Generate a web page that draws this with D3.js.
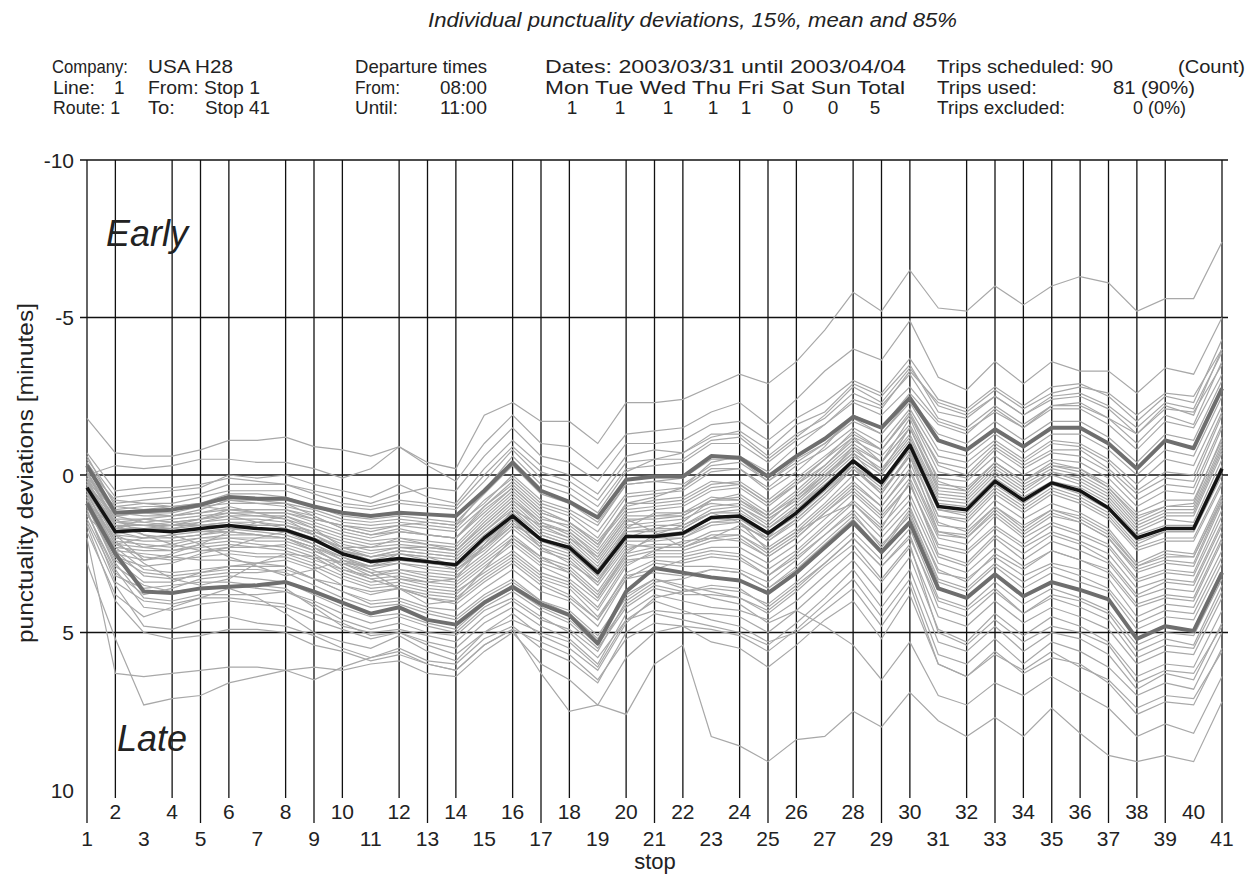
<!DOCTYPE html>
<html>
<head>
<meta charset="utf-8">
<style>
    body { margin: 0; background: #fff; }
    text { font-family: "Liberation Sans", Arial, sans-serif; fill: #222; }
</style>
</head>
<body>
<svg id="chart" width="1255" height="879"></svg>
<script src="https://cdn.jsdelivr.net/npm/d3@7"></script>
<script>
    // stops along the route
    const stops = [1, 2, 3, 4, 5, 6, 7, 8, 9, 10, 11, 12, 13, 14, 15, 16, 17, 18, 19, 20,
        21, 22, 23, 24, 25, 26, 27, 28, 29, 30, 31, 32, 33, 34, 35, 36, 37, 38, 39, 40, 41];
    // stops whose grid line is not visible in the scan
    const stopsNoGrid = [3, 7, 11, 15, 19, 23, 27, 31, 40];
    const yTicks = [-10, -5, 0, 5, 10];

    // thick lines: 15% quantile, mean, 85% quantile (minutes, + = late)
    const p15 = [-0.3, 1.2, 1.15, 1.1, 0.95, 0.7, 0.75, 0.75, 1.0, 1.2, 1.3, 1.2, 1.25, 1.3, 0.5, -0.4, 0.5, 0.85, 1.35, 0.15,
        0.05, 0.05, -0.6, -0.55, 0.05, -0.6, -1.15, -1.85, -1.5, -2.45, -1.1, -0.8, -1.45, -0.9, -1.5, -1.5, -1.0, -0.2, -1.1, -0.85, -2.75];
    const meanDev = [0.4, 1.8, 1.75, 1.8, 1.7, 1.6, 1.7, 1.75, 2.05, 2.5, 2.75, 2.65, 2.75, 2.85, 2.0, 1.3, 2.05, 2.3, 3.1, 1.95,
        1.95, 1.85, 1.35, 1.3, 1.85, 1.2, 0.4, -0.45, 0.25, -0.95, 1.0, 1.1, 0.2, 0.8, 0.25, 0.5, 1.05, 2.0, 1.7, 1.7, -0.2];
    const p85 = [0.9, 2.5, 3.7, 3.75, 3.6, 3.55, 3.5, 3.4, 3.7, 4.05, 4.4, 4.2, 4.6, 4.75, 4.05, 3.55, 4.1, 4.45, 5.35, 3.7,
        2.95, 3.1, 3.25, 3.35, 3.75, 3.1, 2.3, 1.5, 2.45, 1.5, 3.6, 3.9, 3.15, 3.85, 3.4, 3.65, 3.95, 5.2, 4.8, 4.95, 3.1];

    // individual trips (a readable subset of the 81 grey lines)
    const trips = [
        [-1.8, -0.7, -0.6, -0.6, -0.8, -1.1, -1.1, -1.2, -0.9, -0.8, -0.6, -0.9, -0.4, -0.2, -1.9, -2.3, -1.7, -1.7, -1.0, -2.3,
         -2.3, -2.4, -2.8, -3.2, -2.9, -3.6, -4.6, -5.8, -5.2, -6.5, -5.3, -5.2, -6.0, -5.4, -6.0, -6.3, -6.1, -5.2, -5.6, -5.6, -7.4],
        [0.0, -0.3, -0.2, -0.3, -0.5, -0.5, -0.4, -0.4, -0.2, 0.1, -0.2, -0.9, -0.3, 0.2, -1.0, -1.9, -1.0, -0.9, -0.2, -1.3,
         -1.4, -1.5, -2.0, -2.3, -1.6, -2.4, -3.3, -4.0, -3.65, -4.9, -3.1, -2.7, -3.6, -2.9, -3.6, -3.3, -3.3, -2.6, -3.4, -3.2, -5.0],
        [-0.5, 0.7, 0.6, 0.5, 0.4, 0.0, 0.1, 0.0, 0.3, 0.5, 0.7, 0.3, 0.7, 0.9, -0.2, -1.1, -0.3, 0.0, 0.6, -0.6,
         -0.8, -0.7, -1.3, -1.3, -0.6, -1.3, -1.8, -2.6, -2.2, -3.2, -1.8, -1.5, -2.2, -1.6, -2.2, -2.3, -1.8, -1.0, -1.9, -1.6, -3.6],
        [0.1, 1.0, 0.9, 0.9, 0.7, 0.5, 0.5, 0.5, 0.8, 1.0, 1.1, 0.9, 1.0, 1.1, 0.2, -0.8, 0.1, 0.4, 1.0, -0.2,
         -0.3, -0.4, -1.0, -1.0, -0.4, -1.1, -1.6, -2.3, -1.9, -2.8, -1.7, -1.4, -2.0, -1.5, -2.1, -2.1, -1.6, -0.8, -1.7, -1.5, -3.2],
        [-0.4, 0.9, 0.8, 0.7, 0.6, 0.3, 0.3, 0.3, 0.5, 0.7, 0.9, 0.6, 0.4, 0.5, -0.6, -1.5, -0.6, -0.4, 0.2, -1.0,
         -1.0, -1.1, -1.6, -1.7, -1.1, -1.8, -2.3, -3.0, -2.6, -3.7, -2.4, -2.1, -2.8, -2.2, -2.8, -2.9, -2.5, -1.7, -2.5, -2.3, -4.3],
        [-0.1, 1.3, 1.2, 1.2, 1.0, 0.9, 0.9, 1.0, 1.2, 1.5, 1.6, 1.5, 1.6, 1.7, 0.8, 0.1, 0.9, 1.2, 1.8, 0.6,
         0.5, 0.4, -0.2, -0.2, 0.4, -0.3, -0.8, -1.5, -1.0, -2.1, -0.6, -0.4, -1.1, -0.5, -1.1, -1.0, -0.5, 0.3, -0.5, -0.3, -2.2],
        [0.2, 1.1, 1.0, 1.0, 1.0, 1.1, 1.2, 1.2, 1.4, 1.6, 1.7, 1.6, 1.5, 1.6, 0.9, 0.0, 0.8, 1.1, 1.6, 0.3,
         0.2, 0.3, -0.3, -0.4, 0.2, -0.5, -1.0, -1.7, -1.3, -2.3, -0.8, -0.6, -1.3, -0.7, -1.3, -1.3, -0.8, 0.0, -0.8, -0.6, -2.5],
        [-0.2, 1.2, 1.3, 1.3, 1.1, 0.8, 0.9, 0.9, 1.3, 1.7, 1.9, 1.7, 1.9, 2.0, 1.0, 0.3, 1.1, 1.5, 2.1, 1.0,
         0.8, 0.7, 0.2, 0.3, 0.9, 0.3, -0.5, -1.4, -0.8, -2.0, -0.3, 0.0, -0.9, -0.3, -0.8, -0.8, -0.2, 0.6, 0.1, 0.2, -1.9],
        [0.2, 1.5, 1.5, 1.4, 1.3, 1.2, 1.3, 1.3, 1.6, 1.9, 2.1, 2.0, 2.1, 2.2, 1.3, 0.5, 1.3, 1.7, 2.4, 1.2,
         1.1, 1.0, 0.5, 0.4, 1.0, 0.3, -0.3, -1.1, -0.6, -1.6, 0.1, 0.2, -0.6, 0.0, -0.5, -0.4, 0.1, 1.0, 0.5, 0.6, -1.5],
        [0.9, 1.7, 1.4, 1.3, 1.2, 1.0, 1.2, 1.4, 1.9, 2.4, 2.7, 2.5, 2.6, 2.9, 2.3, 1.4, 2.3, 2.8, 3.4, 2.0,
         1.7, 1.5, 0.8, 0.6, 1.2, 0.5, -0.3, -1.2, -0.4, -1.8, 0.2, 0.5, -0.4, 0.2, -0.4, -0.2, 0.4, 1.3, 1.0, 0.9, -1.2],
        [0.3, 1.6, 1.6, 1.6, 1.5, 1.4, 1.4, 1.5, 1.8, 2.2, 2.4, 2.3, 2.4, 2.5, 1.7, 0.9, 1.7, 2.0, 2.8, 1.6,
         1.5, 1.4, 1.0, 0.9, 1.4, 0.8, 0.0, -0.8, -0.2, -1.3, 0.6, 0.7, -0.2, 0.4, -0.1, 0.1, 0.6, 1.6, 1.2, 1.2, -0.8],
        [-0.3, 1.3, 1.5, 1.6, 1.6, 1.5, 1.5, 1.6, 1.9, 2.3, 2.6, 2.4, 2.5, 2.6, 1.8, 1.1, 1.9, 2.2, 3.0, 1.8,
         1.7, 1.7, 1.2, 1.1, 1.7, 1.0, 0.2, -0.6, 0.0, -1.1, 0.8, 0.9, 0.0, 0.6, 0.0, 0.3, 0.8, 1.8, 1.4, 1.5, -0.5],
        [0.5, 1.8, 2.0, 1.9, 1.8, 1.7, 1.8, 1.9, 2.2, 2.7, 3.0, 2.8, 2.9, 3.0, 2.3, 1.5, 2.2, 2.5, 3.3, 2.1,
         2.1, 2.0, 1.6, 1.5, 2.1, 1.5, 0.7, -0.2, 0.6, -0.7, 1.3, 1.4, 0.5, 1.1, 0.5, 0.8, 1.3, 2.3, 2.0, 2.0, 0.2],
        [0.0, 1.4, 1.9, 2.2, 2.4, 2.3, 2.0, 1.8, 2.2, 2.6, 3.0, 3.3, 3.4, 3.3, 2.2, 1.1, 1.6, 2.0, 2.6, 1.4,
         1.8, 2.3, 2.0, 1.6, 2.0, 1.0, 0.3, -0.3, 0.6, -0.6, 1.8, 2.0, 1.2, 1.9, 1.3, 1.5, 2.0, 3.1, 2.8, 2.9, 0.9],
        [0.5, 2.0, 2.1, 2.1, 2.0, 2.0, 2.1, 2.1, 2.4, 2.8, 3.1, 3.0, 3.1, 3.2, 2.5, 1.7, 2.4, 2.7, 3.5, 2.3,
         2.2, 2.2, 1.8, 1.7, 2.3, 1.7, 0.9, 0.0, 0.8, -0.4, 1.6, 1.7, 0.8, 1.4, 0.9, 1.2, 1.7, 2.8, 2.4, 2.5, 0.6],
        [0.7, 2.6, 2.9, 2.8, 2.5, 2.3, 2.3, 2.2, 2.5, 3.0, 3.2, 3.0, 3.2, 3.3, 2.6, 1.9, 2.6, 2.9, 3.7, 2.4,
         2.0, 1.9, 1.5, 1.5, 2.1, 1.4, 0.6, -0.2, 0.5, -0.6, 1.3, 1.5, 0.6, 1.2, 0.6, 0.9, 1.4, 2.4, 2.1, 2.1, 0.3],
        [0.3, 2.1, 2.8, 3.3, 3.5, 3.3, 2.8, 2.5, 2.6, 2.8, 2.9, 2.5, 2.7, 3.0, 2.4, 1.6, 2.0, 2.4, 3.2, 1.7,
         1.2, 1.2, 0.9, 1.0, 1.5, 0.7, 0.0, -0.7, 0.3, -0.8, 1.5, 1.8, 1.0, 1.6, 1.1, 1.3, 1.8, 2.9, 2.5, 2.6, 0.8],
        [0.4, 1.9, 2.3, 2.4, 2.3, 2.2, 2.3, 2.4, 2.7, 3.0, 3.3, 3.2, 3.4, 3.5, 2.8, 2.1, 2.8, 3.1, 3.9, 2.6,
         2.4, 2.4, 2.1, 2.0, 2.6, 2.0, 1.2, 0.4, 1.2, 0.1, 2.0, 2.2, 1.3, 2.0, 1.5, 1.8, 2.2, 3.3, 3.0, 3.1, 1.1],
        [0.6, 2.2, 2.6, 2.7, 2.6, 2.5, 2.6, 2.6, 2.9, 3.3, 3.6, 3.5, 3.7, 3.8, 3.0, 2.4, 3.1, 3.4, 4.2, 2.8,
         2.5, 2.5, 2.3, 2.3, 2.8, 2.2, 1.4, 0.6, 1.4, 0.3, 2.3, 2.5, 1.7, 2.3, 1.8, 2.1, 2.5, 3.6, 3.3, 3.4, 1.5],
        [0.8, 2.3, 2.4, 2.4, 2.2, 2.1, 2.2, 2.3, 2.6, 3.1, 3.4, 3.3, 3.5, 3.6, 2.9, 2.2, 2.9, 3.3, 4.0, 2.7,
         2.6, 2.6, 2.4, 2.5, 3.0, 2.4, 1.6, 0.8, 1.6, 0.6, 2.6, 2.9, 2.0, 2.7, 2.1, 2.4, 2.8, 3.9, 3.6, 3.7, 1.8],
        [0.6, 1.5, 1.6, 1.7, 1.8, 1.8, 1.9, 2.0, 2.3, 2.9, 3.3, 3.6, 3.8, 3.9, 3.2, 2.6, 3.3, 3.6, 4.5, 3.2,
         3.0, 2.7, 2.5, 2.6, 3.2, 2.6, 1.9, 1.2, 2.3, 1.1, 3.0, 3.4, 2.5, 3.0, 2.4, 2.7, 3.0, 4.1, 3.8, 3.9, 2.0],
        [0.8, 2.4, 3.2, 3.3, 3.2, 3.1, 3.1, 3.0, 3.3, 3.7, 4.0, 3.9, 4.2, 4.3, 3.6, 3.0, 3.7, 4.0, 4.8, 3.3,
         2.8, 2.9, 2.9, 3.0, 3.4, 2.7, 1.9, 1.1, 2.0, 1.0, 3.1, 3.3, 2.6, 3.2, 2.8, 3.0, 3.3, 4.5, 4.1, 4.2, 2.4],
        [0.7, 2.3, 3.0, 3.1, 3.0, 2.9, 2.9, 2.9, 3.3, 3.7, 4.1, 4.0, 4.3, 4.5, 3.8, 3.3, 4.0, 4.4, 5.2, 3.9,
         3.3, 3.6, 3.9, 4.1, 4.7, 4.3, 4.8, 5.4, 6.5, 5.3, 7.0, 7.3, 6.6, 7.0, 6.4, 6.9, 7.4, 8.3, 7.9, 8.2, 6.4],
        [1.4, 3.2, 3.6, 3.5, 3.4, 3.4, 3.5, 3.6, 4.2, 4.8, 5.0, 4.9, 5.1, 5.3, 4.5, 4.0, 4.6, 4.9, 5.6, 4.0,
         3.4, 3.3, 3.0, 3.1, 3.6, 2.9, 2.1, 1.3, 2.2, 1.3, 3.4, 3.7, 2.9, 3.6, 3.1, 3.4, 3.7, 4.9, 4.5, 4.6, 2.8],
        [1.0, 2.8, 3.9, 4.0, 3.8, 3.8, 3.8, 3.7, 4.1, 4.6, 4.9, 4.7, 5.0, 5.1, 4.3, 3.9, 4.5, 5.0, 5.8, 4.6,
         4.0, 4.3, 4.6, 4.8, 5.3, 5.0, 4.3, 3.6, 4.8, 3.5, 6.0, 6.4, 5.7, 6.2, 5.6, 6.1, 6.5, 7.4, 7.0, 7.1, 5.6],
        [1.2, 3.0, 4.2, 4.3, 4.1, 4.0, 4.1, 4.2, 4.6, 4.9, 5.2, 5.0, 5.3, 5.5, 4.7, 4.2, 4.8, 5.2, 6.0, 4.4,
         3.8, 4.0, 4.2, 4.3, 4.6, 4.0, 3.2, 2.4, 3.4, 2.3, 4.5, 4.8, 4.0, 4.7, 4.2, 4.5, 4.9, 6.0, 5.6, 5.7, 3.9],
        [1.8, 3.8, 4.5, 4.2, 3.9, 3.6, 3.9, 4.4, 5.0, 5.3, 5.5, 5.1, 5.6, 5.9, 5.0, 4.4, 5.1, 5.5, 6.2, 4.7,
         3.9, 3.7, 3.5, 3.6, 4.2, 3.5, 2.8, 2.0, 2.9, 2.0, 4.0, 4.3, 3.6, 4.4, 3.8, 4.0, 4.4, 5.6, 5.2, 5.4, 3.5],
        [1.5, 3.5, 4.8, 4.9, 4.6, 4.5, 4.7, 4.8, 5.1, 5.5, 5.8, 5.5, 5.9, 6.0, 5.2, 4.8, 5.5, 5.9, 6.6, 5.0,
         4.4, 4.6, 4.8, 5.0, 5.4, 4.7, 3.9, 3.0, 4.2, 3.0, 5.3, 5.6, 4.8, 5.6, 5.0, 5.2, 5.7, 6.8, 6.3, 6.5, 4.7],
        [2.8, 5.2, 7.3, 7.1, 7.0, 6.6, 6.4, 6.2, 6.1, 6.2, 6.0, 5.9, 6.3, 6.4, 5.6, 5.0, 6.0, 6.5, 7.3, 5.8,
         5.0, 4.8, 5.3, 5.5, 6.1, 5.4, 4.6, 4.0, 5.2, 3.8, 6.0, 6.4, 5.6, 6.3, 5.8, 6.0, 6.6, 7.6, 7.2, 7.3, 5.5],
        [2.0, 6.3, 6.4, 6.3, 6.2, 6.1, 6.1, 6.2, 6.5, 6.1, 5.8, 5.6, 6.0, 6.2, 5.4, 4.9, 6.3, 7.5, 7.3, 7.6,
         6.0, 5.4, 8.3, 8.6, 9.1, 8.4, 8.3, 7.5, 8.0, 6.9, 7.8, 8.3, 7.7, 8.3, 7.4, 8.2, 8.9, 9.1, 8.9, 9.1, 7.2],
        [-0.6, 1.0, 1.1, 1.0, 0.9, 0.6, 0.6, 0.7, 1.0, 1.3, 1.4, 1.3, 1.4, 1.5, 0.6, -0.3, 0.6, 0.9, 1.5, 0.3,
         0.2, 0.1, -0.5, -0.5, 0.2, -0.4, -1.0, -1.8, -1.3, -2.4, -1.3, -1.0, -1.7, -1.1, -1.7, -1.7, -1.2, -0.4, -1.3, -1.1, -3.0],
        [0.1, 1.4, 1.4, 1.5, 1.4, 1.2, 1.2, 1.2, 1.5, 1.8, 2.0, 1.8, 1.9, 2.0, 1.1, 0.4, 1.2, 1.5, 2.2, 0.9,
         0.9, 0.8, 0.3, 0.2, 0.8, 0.1, -0.6, -1.3, -0.8, -1.9, -0.4, -0.2, -1.0, -0.4, -1.0, -0.9, -0.4, 0.5, -0.1, 0.0, -2.0],
        [0.4, 1.7, 1.8, 1.7, 1.6, 1.5, 1.6, 1.6, 1.9, 2.4, 2.6, 2.5, 2.6, 2.7, 1.9, 1.2, 1.9, 2.2, 3.0, 1.8,
         1.8, 1.7, 1.2, 1.2, 1.7, 1.1, 0.3, -0.5, 0.2, -1.0, 0.9, 1.0, 0.1, 0.7, 0.2, 0.4, 0.9, 1.9, 1.6, 1.6, -0.3],
        [0.6, 2.1, 2.2, 2.3, 2.1, 2.0, 2.0, 2.0, 2.3, 2.7, 2.9, 2.8, 3.0, 3.1, 2.3, 1.6, 2.3, 2.6, 3.4, 2.2,
         2.3, 2.3, 2.0, 1.9, 2.5, 1.9, 1.1, 0.3, 1.0, -0.1, 1.9, 2.0, 1.1, 1.8, 1.2, 1.5, 2.0, 3.0, 2.7, 2.8, 0.8],
        [1.0, 2.7, 3.4, 3.4, 3.1, 2.9, 2.8, 2.7, 3.0, 3.5, 3.8, 3.6, 3.9, 4.0, 3.3, 2.7, 3.4, 3.8, 4.6, 3.1,
         2.7, 2.8, 2.6, 2.7, 3.2, 2.5, 1.7, 0.9, 1.8, 0.8, 2.8, 3.1, 2.3, 2.9, 2.4, 2.7, 3.1, 4.2, 3.9, 4.0, 2.1],
        [1.1, 3.4, 4.0, 4.1, 3.9, 3.9, 4.0, 4.1, 4.4, 4.7, 5.1, 5.0, 5.4, 5.7, 5.0, 4.6, 5.0, 5.3, 6.1, 4.6,
         4.3, 4.4, 4.4, 4.5, 5.0, 4.3, 3.5, 2.7, 3.8, 2.6, 4.9, 5.3, 4.4, 5.1, 4.5, 4.8, 5.3, 6.4, 6.0, 6.1, 4.3],
        [0.3, 1.6, 1.7, 1.7, 1.5, 1.3, 1.3, 1.4, 1.7, 2.0, 2.2, 2.1, 2.2, 2.3, 1.4, 0.6, 1.4, 1.6, 2.3, 0.9,
         0.7, 0.4, -0.4, -0.6, -0.1, -0.9, -1.6, -2.4, -2.1, -3.3, -2.3, -2.0, -2.7, -2.1, -2.6, -2.8, -2.6, -1.9, -2.6, -2.5, -4.0],
        [-0.1, 1.5, 1.6, 1.5, 1.4, 1.1, 1.1, 1.1, 1.4, 1.6, 1.8, 1.6, 1.7, 1.8, 1.0, 0.2, 1.0, 1.3, 2.0, 0.7,
         0.6, 0.5, -0.1, -0.2, 0.5, -0.1, -0.9, -1.9, -1.5, -2.6, -1.6, -1.3, -2.1, -1.5, -2.2, -2.2, -1.8, -1.3, -2.1, -2.0, -3.5],
        [0.9, 2.6, 3.1, 3.2, 3.1, 3.0, 3.0, 3.1, 3.5, 3.9, 4.2, 4.1, 4.4, 4.6, 3.9, 3.4, 4.0, 4.3, 5.1, 3.8,
         3.3, 3.5, 3.7, 3.9, 4.4, 3.7, 2.9, 2.2, 3.3, 2.2, 5.0, 5.4, 4.6, 5.3, 4.8, 5.0, 5.4, 6.6, 6.2, 6.3, 4.8],
        [0.5, 1.9, 2.0, 2.0, 1.9, 1.8, 1.9, 2.0, 2.3, 2.6, 2.9, 2.7, 2.8, 2.9, 2.1, 1.4, 2.1, 2.4, 3.2, 2.0,
         1.9, 1.8, 1.4, 1.4, 1.9, 1.3, 0.5, -0.3, 0.3, -0.8, 1.1, 1.3, 0.4, 1.0, 0.4, 0.7, 1.2, 2.2, 1.8, 1.8, -0.1],
        [0.2, 1.7, 1.7, 1.8, 1.7, 1.6, 1.7, 1.8, 2.1, 2.5, 2.8, 2.7, 2.8, 2.9, 2.2, 1.4, 2.0, 2.3, 3.0, 1.9,
         2.0, 2.0, 1.5, 1.4, 2.0, 1.4, 0.6, -0.3, 0.4, -0.9, 1.1, 1.2, 0.3, 0.9, 0.3, 0.6, 1.1, 2.1, 1.8, 1.8, 0.0],
        [0.8, 2.5, 2.7, 2.6, 2.4, 2.4, 2.5, 2.5, 2.8, 3.2, 3.5, 3.4, 3.6, 3.7, 3.1, 2.5, 3.2, 3.5, 4.3, 2.9,
         2.4, 2.1, 2.0, 2.1, 2.6, 2.0, 1.2, 0.5, 1.3, 0.3, 2.2, 2.4, 1.6, 2.2, 1.6, 1.9, 2.3, 3.4, 3.1, 3.2, 1.3],
        [-0.2, 0.8, 0.9, 1.0, 0.9, 0.8, 0.8, 0.9, 1.1, 1.4, 1.5, 1.4, 1.5, 1.6, 0.5, -0.6, 0.3, 0.6, 1.2, -0.1,
         -0.5, -0.7, -1.2, -1.4, -0.8, -1.6, -2.0, -2.9, -2.5, -3.5, -2.0, -1.8, -2.5, -1.9, -2.4, -2.5, -2.1, -1.3, -2.2, -1.9, -4.0],
        [1.6, 4.0, 5.0, 5.2, 5.1, 4.9, 4.9, 5.0, 5.4, 5.6, 5.9, 5.7, 6.0, 6.2, 5.4, 4.9, 5.3, 5.7, 6.5, 5.2,
         4.7, 4.8, 4.9, 5.1, 5.6, 4.9, 4.1, 3.3, 4.5, 3.3, 5.7, 6.0, 5.2, 6.0, 5.3, 5.6, 6.1, 7.0, 6.6, 6.8, 5.0],
        [0.3, 1.3, 1.2, 1.3, 1.2, 1.1, 1.1, 1.1, 1.3, 1.7, 1.9, 1.8, 1.9, 2.0, 1.2, 0.4, 1.2, 1.5, 2.2, 1.1,
         1.0, 0.9, 0.4, 0.3, 0.9, 0.2, -0.5, -1.2, -0.8, -1.9, -0.1, 0.1, -0.8, -0.2, -0.7, -0.6, -0.1, 0.8, 0.3, 0.4, -1.6],
        [1.3, 2.2, 2.0, 1.9, 2.2, 2.6, 2.9, 3.2, 3.0, 2.7, 3.1, 3.6, 4.1, 4.0, 3.0, 2.0, 2.6, 3.1, 3.9, 2.5,
         1.9, 1.6, 1.2, 1.5, 2.4, 1.8, 1.3, 0.9, 1.7, 0.2, 2.5, 2.8, 1.9, 2.5, 1.9, 2.2, 2.7, 3.8, 3.4, 3.5, 1.6],
        [0.1, 1.9, 2.7, 2.5, 2.2, 1.8, 1.5, 1.3, 1.7, 2.3, 2.3, 2.0, 2.2, 2.4, 1.5, 0.7, 1.5, 1.9, 2.7, 1.5,
         1.3, 1.2, 0.7, 0.8, 1.4, 0.8, 0.1, -0.9, -0.1, -1.5, 0.5, 0.6, -0.3, 0.3, -0.2, 0.0, 0.5, 1.5, 1.1, 1.1, -0.9],
        [0.5, 2.4, 2.5, 2.6, 2.7, 2.7, 2.8, 2.9, 3.3, 3.5, 3.7, 3.6, 3.9, 4.1, 3.4, 2.8, 3.5, 3.9, 4.6, 3.3,
         3.1, 3.2, 3.0, 3.1, 3.6, 3.0, 2.2, 1.4, 2.4, 1.2, 3.3, 3.6, 2.8, 3.4, 2.9, 3.2, 3.6, 4.7, 4.3, 4.4, 2.6],
        [0.2, 1.8, 1.7, 1.6, 1.4, 1.3, 1.5, 1.7, 2.1, 2.4, 2.6, 2.4, 2.5, 2.6, 1.8, 1.0, 1.8, 2.1, 2.9, 1.7,
         1.6, 1.6, 1.1, 1.0, 1.6, 0.9, 0.1, -0.7, -0.1, -1.2, 0.7, 0.8, -0.1, 0.5, -0.1, 0.2, 0.7, 1.7, 1.3, 1.3, -0.7],
        [-0.1, 1.6, 1.9, 2.0, 1.9, 1.7, 1.7, 1.7, 2.0, 2.3, 2.5, 2.3, 2.3, 2.4, 1.6, 0.8, 1.6, 1.8, 2.5, 1.3,
         1.3, 1.3, 0.8, 0.7, 1.3, 0.6, -0.2, -1.0, -0.4, -1.5, 0.4, 0.5, -0.4, 0.2, -0.3, -0.1, 0.4, 1.4, 1.0, 1.0, -1.0],
        [0.9, 2.9, 3.5, 3.7, 3.6, 3.5, 3.6, 3.7, 4.0, 4.4, 4.7, 4.5, 4.8, 5.0, 4.2, 3.7, 4.3, 4.7, 5.5, 4.2,
         3.6, 3.8, 3.8, 3.9, 4.3, 3.6, 2.8, 2.0, 2.9, 1.9, 4.2, 4.5, 3.7, 4.4, 3.9, 4.2, 4.6, 5.8, 5.4, 5.5, 3.7],
        [0.4, 1.5, 1.4, 1.5, 1.6, 1.6, 1.6, 1.6, 1.8, 2.1, 2.3, 2.2, 2.3, 2.4, 1.6, 0.8, 1.5, 1.8, 2.6, 1.4,
         1.4, 1.3, 0.8, 0.8, 1.3, 0.7, -0.1, -0.9, -0.4, -1.5, 0.3, 0.4, -0.4, 0.2, -0.3, -0.2, 0.3, 1.2, 0.8, 0.8, -1.1],
        [0.6, 2.2, 2.3, 2.2, 2.0, 1.9, 1.9, 2.0, 2.4, 2.8, 3.2, 3.1, 3.3, 3.4, 2.7, 2.0, 2.7, 3.0, 3.8, 2.5,
         2.3, 2.3, 1.9, 1.9, 2.4, 1.8, 1.0, 0.2, 1.0, -0.2, 1.8, 1.9, 1.0, 1.7, 1.1, 1.4, 1.9, 2.9, 2.6, 2.6, 0.7],
        [1.2, 3.1, 3.8, 3.6, 3.3, 3.2, 3.3, 3.4, 3.8, 4.2, 4.5, 4.4, 4.7, 4.9, 4.1, 3.6, 4.2, 4.6, 5.4, 4.1,
         3.5, 3.7, 3.6, 3.7, 4.1, 3.4, 2.6, 1.8, 2.7, 1.7, 3.9, 4.2, 3.4, 4.1, 3.6, 3.9, 4.3, 5.4, 5.0, 5.1, 3.3],
        [-0.7, 0.5, 0.4, 0.4, 0.3, 0.1, 0.2, 0.3, 0.6, 0.9, 1.0, 0.8, 0.9, 1.0, 0.0, -0.9, -0.1, 0.2, 0.8, -0.4,
         -0.5, -0.5, -1.1, -1.2, -0.5, -1.2, -1.9, -2.8, -2.3, -3.4, -2.2, -1.9, -2.5, -1.9, -2.5, -2.6, -2.2, -1.5, -2.3, -2.1, -3.9]
    ];

    const svg = d3.select("#chart");
    const x = d3.scaleLinear().domain([1, 41]).range([87, 1222]);
    const y = d3.scaleLinear().domain([-10, 10]).range([160, 790]);

    // helper: text squeezed/stretched to the width seen in the scan
    function label(g, xPos, yPos, str, size, width, anchor) {
        const t = g.append("text")
            .attr("x", xPos).attr("y", yPos)
            .attr("text-anchor", anchor || "start")
            .style("font-size", size + "px")
            .text(str);
        if (width) t.attr("textLength", width).attr("lengthAdjust", "spacingAndGlyphs");
        return t;
    }

    // title and header block
    label(svg, 428, 27, "Individual punctuality deviations, 15%, mean and 85%", 20, 529)
        .style("font-style", "italic");

    const rowY = [73, 94, 114];
    const header = [
        [0, 52, "Company:", 76], [0, 148, "USA  H28", 85], [0, 355, "Departure times", 132],
        [0, 545, "Dates: 2003/03/31 until 2003/04/04", 361], [0, 937, "Trips scheduled: 90", 176], [0, 1178, "(Count)", 67],
        [1, 53, "Line:", 42], [1, 114, "1", 0], [1, 148, "From: Stop  1", 112], [1, 355, "From:", 45],
        [1, 545, "Mon Tue Wed Thu Fri Sat Sun Total", 360], [1, 937, "Trips used:", 100], [1, 1113, "81 (90%)", 82],
        [2, 53, "Route: 1", 67], [2, 148, "To:", 27], [2, 205, "Stop 41", 65], [2, 355, "Until:", 43],
        [2, 937, "Trips excluded:", 128], [2, 1133, "0 (0%)", 53]
    ];
    const head = svg.append("g");
    header.forEach(h => label(head, h[1], rowY[h[0]], h[2], 19, h[3]));
    label(head, 487, rowY[1], "08:00", 19, 47, "end");
    label(head, 487, rowY[2], "11:00", 19, 47, "end");
    const dayCounts = ["1", "1", "1", "1", "1", "0", "0", "5"];
    const dayX = [572, 620, 668, 713, 746, 788, 833, 875];
    dayCounts.forEach((d, i) => label(head, dayX[i], rowY[2], d, 19, 0, "middle"));

    // grid
    const grid = svg.append("g").attr("stroke", "#111").attr("stroke-width", 1.3);
    grid.selectAll("line.h").data(yTicks.filter(t => t < 10)).join("line")
        .attr("class", "h")
        .attr("x1", 80).attr("x2", 1228)
        .attr("y1", d => y(d)).attr("y2", d => y(d));
    grid.selectAll("line.v").data(stops.filter(s => !stopsNoGrid.includes(s))).join("line")
        .attr("class", "v")
        .attr("x1", d => x(d)).attr("x2", d => x(d))
        .attr("y1", y(-10))
        .attr("y2", d => d % 2 === 1 ? 823 : 798);

    // grey trip lines
    const line = d3.line().x((d, i) => x(stops[i])).y(d => y(d));
    svg.append("g").selectAll("path").data(trips).join("path")
        .attr("d", line)
        .attr("fill", "none")
        .attr("stroke", "#a8a8a8")
        .attr("stroke-width", 1.2);

    // quantiles and mean
    const thick = [[p15, "#6e6e6e", 4], [p85, "#6e6e6e", 4], [meanDev, "#141414", 3.5]];
    svg.append("g").selectAll("path").data(thick).join("path")
        .attr("d", d => line(d[0]))
        .attr("fill", "none")
        .attr("stroke", d => d[1])
        .attr("stroke-width", d => d[2])
        .attr("stroke-linejoin", "round");

    // y axis labels
    svg.append("g").selectAll("text").data(yTicks).join("text")
        .attr("x", 74).attr("y", d => y(d))
        .attr("dy", "0.36em")
        .attr("text-anchor", "end")
        .style("font-size", "21px")
        .text(d => d);
    svg.append("text")
        .attr("transform", "translate(33,473) rotate(-90)")
        .attr("text-anchor", "middle")
        .attr("textLength", 340).attr("lengthAdjust", "spacingAndGlyphs")
        .style("font-size", "22px")
        .text("punctuality deviations [minutes]");

    // x axis labels, even stops on the upper row
    svg.append("g").selectAll("text").data(stops).join("text")
        .attr("x", d => x(d))
        .attr("y", d => d % 2 === 0 ? 819 : 846)
        .attr("text-anchor", "middle")
        .style("font-size", "21px")
        .text(d => d);
    svg.append("text")
        .attr("x", 655).attr("y", 869)
        .attr("text-anchor", "middle")
        .style("font-size", "22px")
        .text("stop");

    svg.append("text").attr("x", 106).attr("y", 246)
        .style("font-size", "36px").style("font-style", "italic").text("Early");
    svg.append("text").attr("x", 117).attr("y", 751)
        .style("font-size", "36px").style("font-style", "italic").text("Late");
</script>
</body>
</html>
